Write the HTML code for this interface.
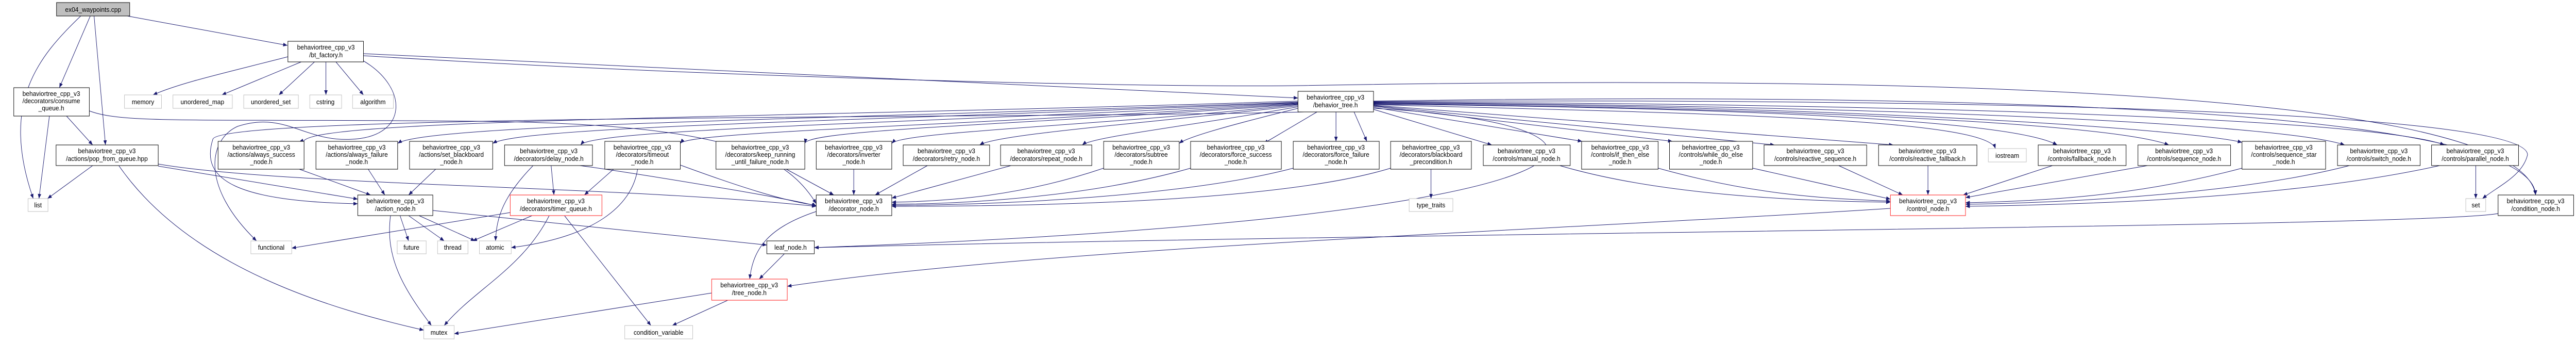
<!DOCTYPE html>
<html><head><meta charset="utf-8"><style>
html,body{margin:0;padding:0;background:#fff;overflow:hidden;width:100%;height:100%;}
svg{display:block;width:100vw;height:100vh;}
text{font-family:"Liberation Sans",sans-serif;font-size:13px;fill:#000;text-anchor:middle;}
.n{fill:#fff;stroke:#000;stroke-width:1;}
.g{fill:#fff;stroke:#bfbfbf;stroke-width:1;}
.r{fill:#fff;stroke:#ff4040;stroke-width:1.2;}
.e{fill:none;stroke:#191970;stroke-width:1;}
</style></head><body>
<svg viewBox="0 0 5422 663" preserveAspectRatio="none" xmlns="http://www.w3.org/2000/svg">
<defs><marker id="a" viewBox="0 0 10 10" refX="10" refY="5" markerWidth="9" markerHeight="9" orient="auto" markerUnits="userSpaceOnUse"><path d="M0,1 L10,5 L0,9 z" fill="#191970"/></marker></defs>
<g marker-end="url(#a)">
<path class="e" d="M170 31 C80 110,0 200,70 385"/>
<path class="e" d="M190 31 L125 170"/>
<path class="e" d="M198 31 L222 281"/>
<path class="e" d="M268 31 L605 88"/>
<path class="e" d="M606 110 C480 140,380 160,322 184"/>
<path class="e" d="M634 120 L467 184"/>
<path class="e" d="M662 120 L587 184"/>
<path class="e" d="M686 120 L686 184"/>
<path class="e" d="M707 120 L765 184"/>
<path class="e" d="M765 104 L2732 190"/>
<path class="e" d="M765 108 C1500 150,2400 170,2732 166 C3700 150,5300 150,5337 378"/>
<path class="e" d="M765 118 C860 170,860 265,740 270 C640 275,600 215,500 245 C440 270,420 360,540 467"/>
<path class="e" d="M104 225 L82 385"/>
<path class="e" d="M140 225 L195 281"/>
<path class="e" d="M188 215 C260 240,400 230,1000 235 C1500 240,1650 290,1718 395"/>
<path class="e" d="M195 321 L100 385"/>
<path class="e" d="M250 321 C400 520,700 600,892 640"/>
<path class="e" d="M333 322 L753 386"/>
<path class="e" d="M333 318 C600 360,1300 360,1718 400"/>
<path class="e" d="M2732 196 C1600 230,600 230,640 278"/>
<path class="e" d="M2732 198 C1800 230,900 240,837 278"/>
<path class="e" d="M2732 199 C1800 235,1100 245,1037 278"/>
<path class="e" d="M2732 200 C1900 240,1250 250,1222 281"/>
<path class="e" d="M2732 201 C2000 245,1450 255,1432 278"/>
<path class="e" d="M2732 202 C2200 240,1700 250,1694 278"/>
<path class="e" d="M2732 203 C2300 245,1900 255,1877 278"/>
<path class="e" d="M2732 205 C2400 240,2100 260,2062 281"/>
<path class="e" d="M2732 207 C2500 245,2300 265,2278 281"/>
<path class="e" d="M2732 210 C2600 240,2500 265,2482 278"/>
<path class="e" d="M2772 217 L2660 278"/>
<path class="e" d="M2745 217 C2200 230,460 220,448 270 C420 350,500 390,753 395"/>
<path class="e" d="M2812 217 L2812 274"/>
<path class="e" d="M2850 217 L2877 274"/>
<path class="e" d="M2891 212 L3140 281"/>
<path class="e" d="M2891 208 L3330 274"/>
<path class="e" d="M2891 206 L3520 274"/>
<path class="e" d="M2891 205 L3735 281"/>
<path class="e" d="M2891 204 L3985 281"/>
<path class="e" d="M2891 203 C3600 220,4180 230,4200 288"/>
<path class="e" d="M2891 202 C3800 210,4250 240,4330 281"/>
<path class="e" d="M2891 201 C3800 210,4450 240,4565 281"/>
<path class="e" d="M2891 200 C3900 205,4600 250,4719 276"/>
<path class="e" d="M2891 199 C4000 205,4800 240,4935 281"/>
<path class="e" d="M2891 198 C4000 200,5000 230,5145 281"/>
<path class="e" d="M2891 197 C4000 190,5320 210,5320 300 C5310 340,5260 360,5225 385"/>
<path class="e" d="M2891 210 C3500 240,3500 420,1714 480"/>
<path class="e" d="M630 328 L780 378"/>
<path class="e" d="M775 328 L810 378"/>
<path class="e" d="M917 328 L860 378"/>
<path class="e" d="M1160 321 L1166 378"/>
<path class="e" d="M1122 321 C1060 380,1045 420,1043 467"/>
<path class="e" d="M1300 321 L1230 378"/>
<path class="e" d="M1342 328 C1330 400,1250 460,1076 480"/>
<path class="e" d="M1220 321 C1300 330,1700 390,1718 400"/>
<path class="e" d="M1432 320 C1550 360,1650 390,1718 398"/>
<path class="e" d="M1655 328 L1755 378"/>
<path class="e" d="M1797 328 L1797 378"/>
<path class="e" d="M1952 321 L1842 378"/>
<path class="e" d="M2128 321 L1877 384"/>
<path class="e" d="M2323 326 C2150 380,2000 390,1877 392"/>
<path class="e" d="M2506 326 C2300 380,2050 395,1877 396"/>
<path class="e" d="M2722 326 C2500 380,2100 398,1877 398"/>
<path class="e" d="M2927 326 C2700 390,2200 400,1877 400"/>
<path class="e" d="M1074 412 L614 481"/>
<path class="e" d="M1120 418 L995 467"/>
<path class="e" d="M1156 418 C1100 520,1000 560,935 631"/>
<path class="e" d="M1188 418 L1370 631"/>
<path class="e" d="M822 418 C810 500,850 560,908 631"/>
<path class="e" d="M842 418 L860 467"/>
<path class="e" d="M860 418 L935 467"/>
<path class="e" d="M882 418 L1000 467"/>
<path class="e" d="M911 408 L1614 475"/>
<path class="e" d="M1718 410 C1620 440,1585 480,1578 541"/>
<path class="e" d="M1651 492 L1598 541"/>
<path class="e" d="M1498 568 L956 647"/>
<path class="e" d="M1532 582 L1415 631"/>
<path class="e" d="M3979 404 C3200 450,2200 480,1657 555"/>
<path class="e" d="M3283 321 C3500 380,3800 390,3979 392"/>
<path class="e" d="M3490 326 C3700 380,3850 385,3979 390"/>
<path class="e" d="M3689 326 L3979 386"/>
<path class="e" d="M3870 321 L4005 378"/>
<path class="e" d="M4058 321 L4058 378"/>
<path class="e" d="M4320 321 L4132 378"/>
<path class="e" d="M4520 321 L4137 383"/>
<path class="e" d="M4719 326 C4500 380,4300 390,4137 393"/>
<path class="e" d="M4945 321 C4700 380,4300 394,4137 396"/>
<path class="e" d="M5135 321 C4800 390,4300 398,4137 400"/>
<path class="e" d="M5211 321 L5211 385"/>
<path class="e" d="M5258 414 C5100 440,3000 450,1714 480"/>
<path class="e" d="M2891 196 C4000 180,5330 200,5337 378"/>
<path class="e" d="M3012 328 L3012 385"/>
</g>
<rect x="119" y="5" width="154" height="26" fill="#bfbfbf" stroke="#000"/><text x="196" y="23">ex04_waypoints.cpp</text>
<rect class="n" x="606" y="80" width="159" height="40"/><text x="686" y="96">behaviortree_cpp_v3</text><text x="686" y="111">/bt_factory.h</text>
<rect class="n" x="29" y="170" width="159" height="55"/><text x="108" y="186">behaviortree_cpp_v3</text><text x="108" y="200">/decorators/consume</text><text x="108" y="214">_queue.h</text>
<rect class="g" x="262" y="184" width="78" height="26"/><text x="301" y="202">memory</text>
<rect class="g" x="364" y="184" width="125" height="26"/><text x="426" y="202">unordered_map</text>
<rect class="g" x="513" y="184" width="115" height="26"/><text x="570" y="202">unordered_set</text>
<rect class="g" x="652" y="184" width="67" height="26"/><text x="685" y="202">cstring</text>
<rect class="g" x="742" y="184" width="86" height="26"/><text x="785" y="202">algorithm</text>
<rect class="n" x="118" y="281" width="215" height="40"/><text x="225" y="297">behaviortree_cpp_v3</text><text x="225" y="312">/actions/pop_from_queue.hpp</text>
<rect class="g" x="59" y="385" width="42" height="25"/><text x="80" y="402">list</text>
<rect class="n" x="459" y="274" width="181" height="54"/><text x="550" y="290">behaviortree_cpp_v3</text><text x="550" y="304">/actions/always_success</text><text x="550" y="318">_node.h</text>
<rect class="n" x="665" y="274" width="172" height="54"/><text x="751" y="290">behaviortree_cpp_v3</text><text x="751" y="304">/actions/always_failure</text><text x="751" y="318">_node.h</text>
<rect class="n" x="862" y="274" width="175" height="54"/><text x="950" y="290">behaviortree_cpp_v3</text><text x="950" y="304">/actions/set_blackboard</text><text x="950" y="318">_node.h</text>
<rect class="n" x="1062" y="281" width="185" height="40"/><text x="1155" y="297">behaviortree_cpp_v3</text><text x="1155" y="312">/decorators/delay_node.h</text>
<rect class="n" x="1273" y="274" width="159" height="54"/><text x="1352" y="290">behaviortree_cpp_v3</text><text x="1352" y="304">/decorators/timeout</text><text x="1352" y="318">_node.h</text>
<rect class="n" x="1507" y="274" width="187" height="54"/><text x="1600" y="290">behaviortree_cpp_v3</text><text x="1600" y="304">/decorators/keep_running</text><text x="1600" y="318">_until_failure_node.h</text>
<rect class="n" x="1718" y="274" width="159" height="54"/><text x="1797" y="290">behaviortree_cpp_v3</text><text x="1797" y="304">/decorators/inverter</text><text x="1797" y="318">_node.h</text>
<rect class="n" x="1901" y="281" width="182" height="40"/><text x="1992" y="297">behaviortree_cpp_v3</text><text x="1992" y="312">/decorators/retry_node.h</text>
<rect class="n" x="2106" y="281" width="192" height="40"/><text x="2202" y="297">behaviortree_cpp_v3</text><text x="2202" y="312">/decorators/repeat_node.h</text>
<rect class="n" x="2323" y="274" width="159" height="54"/><text x="2402" y="290">behaviortree_cpp_v3</text><text x="2402" y="304">/decorators/subtree</text><text x="2402" y="318">_node.h</text>
<rect class="n" x="2506" y="274" width="191" height="54"/><text x="2601" y="290">behaviortree_cpp_v3</text><text x="2601" y="304">/decorators/force_success</text><text x="2601" y="318">_node.h</text>
<rect class="n" x="2722" y="274" width="181" height="54"/><text x="2812" y="290">behaviortree_cpp_v3</text><text x="2812" y="304">/decorators/force_failure</text><text x="2812" y="318">_node.h</text>
<rect class="n" x="2732" y="177" width="159" height="40"/><text x="2811" y="193">behaviortree_cpp_v3</text><text x="2811" y="208">/behavior_tree.h</text>
<rect class="n" x="2927" y="274" width="170" height="54"/><text x="3012" y="290">behaviortree_cpp_v3</text><text x="3012" y="304">/decorators/blackboard</text><text x="3012" y="318">_precondition.h</text>
<rect class="g" x="2966" y="385" width="92" height="25"/><text x="3012" y="402">type_traits</text>
<rect class="n" x="3122" y="281" width="183" height="40"/><text x="3213" y="297">behaviortree_cpp_v3</text><text x="3213" y="312">/controls/manual_node.h</text>
<rect class="n" x="3329" y="274" width="161" height="54"/><text x="3410" y="290">behaviortree_cpp_v3</text><text x="3410" y="304">/controls/if_then_else</text><text x="3410" y="318">_node.h</text>
<rect class="n" x="3514" y="274" width="175" height="54"/><text x="3601" y="290">behaviortree_cpp_v3</text><text x="3601" y="304">/controls/while_do_else</text><text x="3601" y="318">_node.h</text>
<rect class="n" x="3713" y="281" width="216" height="40"/><text x="3821" y="297">behaviortree_cpp_v3</text><text x="3821" y="312">/controls/reactive_sequence.h</text>
<rect class="n" x="3954" y="281" width="207" height="40"/><text x="4057" y="297">behaviortree_cpp_v3</text><text x="4057" y="312">/controls/reactive_fallback.h</text>
<rect class="g" x="4185" y="288" width="80" height="26"/><text x="4225" y="306">iostream</text>
<rect class="n" x="4290" y="281" width="185" height="40"/><text x="4382" y="297">behaviortree_cpp_v3</text><text x="4382" y="312">/controls/fallback_node.h</text>
<rect class="n" x="4500" y="281" width="195" height="40"/><text x="4597" y="297">behaviortree_cpp_v3</text><text x="4597" y="312">/controls/sequence_node.h</text>
<rect class="n" x="4719" y="274" width="176" height="54"/><text x="4807" y="290">behaviortree_cpp_v3</text><text x="4807" y="304">/controls/sequence_star</text><text x="4807" y="318">_node.h</text>
<rect class="n" x="4920" y="281" width="174" height="40"/><text x="5007" y="297">behaviortree_cpp_v3</text><text x="5007" y="312">/controls/switch_node.h</text>
<rect class="n" x="5118" y="281" width="183" height="40"/><text x="5210" y="297">behaviortree_cpp_v3</text><text x="5210" y="312">/controls/parallel_node.h</text>
<rect class="g" x="5190" y="385" width="42" height="25"/><text x="5211" y="402">set</text>
<rect class="n" x="5258" y="378" width="159" height="40"/><text x="5337" y="394">behaviortree_cpp_v3</text><text x="5337" y="409">/condition_node.h</text>
<rect class="n" x="753" y="378" width="158" height="40"/><text x="832" y="394">behaviortree_cpp_v3</text><text x="832" y="409">/action_node.h</text>
<rect class="r" x="1074" y="378" width="193" height="40"/><text x="1170" y="394">behaviortree_cpp_v3</text><text x="1170" y="409">/decorators/timer_queue.h</text>
<rect class="n" x="1718" y="378" width="159" height="40"/><text x="1797" y="394">behaviortree_cpp_v3</text><text x="1797" y="409">/decorator_node.h</text>
<rect class="r" x="3979" y="378" width="158" height="40"/><text x="4058" y="394">behaviortree_cpp_v3</text><text x="4058" y="409">/control_node.h</text>
<rect class="g" x="528" y="467" width="86" height="25"/><text x="571" y="484">functional</text>
<rect class="g" x="836" y="467" width="61" height="25"/><text x="866" y="484">future</text>
<rect class="g" x="921" y="467" width="64" height="25"/><text x="953" y="484">thread</text>
<rect class="g" x="1009" y="467" width="67" height="25"/><text x="1042" y="484">atomic</text>
<rect class="n" x="1614" y="467" width="100" height="25"/><text x="1664" y="484">leaf_node.h</text>
<rect class="r" x="1498" y="541" width="159" height="41"/><text x="1577" y="557">behaviortree_cpp_v3</text><text x="1577" y="572">/tree_node.h</text>
<rect class="g" x="892" y="631" width="64" height="26"/><text x="924" y="649">mutex</text>
<rect class="g" x="1315" y="631" width="143" height="26"/><text x="1386" y="649">condition_variable</text>
</svg>
</body></html>
